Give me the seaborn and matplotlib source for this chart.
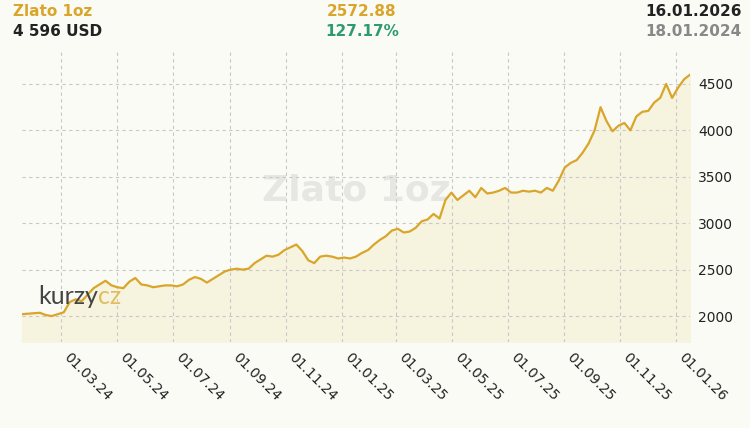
import matplotlib
matplotlib.use("Agg")
import matplotlib.pyplot as plt
import matplotlib.dates as mdates
import seaborn as sns
import pandas as pd

start_date = "2024-01-18"
end_date = "2026-01-16"
prices = [2020, 2025, 2030, 2035, 2010, 2000, 2020, 2040, 2150, 2180, 2160, 2230, 2300, 2340,
          2380, 2330, 2310, 2300, 2370, 2410, 2340, 2330, 2310, 2320, 2330, 2330, 2320, 2340,
          2390, 2420, 2400, 2360, 2400, 2440, 2480, 2500, 2510, 2500, 2510, 2570, 2610, 2650,
          2640, 2660, 2710, 2740, 2770, 2700, 2600, 2570, 2640, 2650, 2640, 2620, 2630, 2620,
          2640, 2680, 2710, 2770, 2820, 2860, 2920, 2940, 2900, 2910, 2950, 3020, 3040, 3100,
          3050, 3250, 3330, 3250, 3300, 3350, 3280, 3380, 3320, 3330, 3350, 3380, 3330, 3330,
          3350, 3340, 3350, 3330, 3380, 3350, 3460, 3600, 3650, 3680, 3760, 3860, 4000, 4250,
          4100, 3990, 4050, 4080, 4000, 4150, 4200, 4210, 4300, 4350, 4500, 4350, 4460, 4550, 4600]
tick_dates = ["2024-03-01", "2024-05-01", "2024-07-01", "2024-09-01", "2024-11-01", "2025-01-01",
              "2025-03-01", "2025-05-01", "2025-07-01", "2025-09-01", "2025-11-01", "2026-01-01"]
y_ticks = [2000, 2500, 3000, 3500, 4000, 4500]

df = pd.DataFrame({"date": pd.date_range(start_date, end_date, periods=len(prices)), "price": prices})

bg = "#fbfbf6"
gold = "#d9a52b"
fig = plt.figure(figsize=(7.5, 4.28), dpi=100, facecolor=bg)
ax = fig.add_axes([22/750, 1-342/428, (690-22)/750, (342-50)/428])
ax.set_facecolor(bg)
ax.fill_between(df["date"], df["price"], 1700, color="#f6f3df", zorder=1)
sns.lineplot(data=df, x="date", y="price", color=gold, linewidth=1.6, ax=ax, zorder=3)
ax.set_ylim(1720, 4866)
ax.set_xlim(pd.Timestamp(start_date), pd.Timestamp(end_date))
ax.set_xticks(pd.to_datetime(tick_dates))
ax.xaxis.set_major_formatter(mdates.DateFormatter("%d.%m.%y"))
ax.set_yticks(y_ticks)
ax.yaxis.tick_right()
ax.grid(True, color="#c8c8c8", linestyle=(0, (3, 3)), linewidth=0.8, zorder=0)
for s in ax.spines.values():
    s.set_visible(False)
ax.tick_params(length=0, labelsize=10, colors="#222222", pad=6)
for lbl in ax.get_xticklabels():
    lbl.set_rotation(-45); lbl.set_ha("left"); lbl.set_va("top")
ax.set_xlabel(""); ax.set_ylabel("")
ax.text(0.5, 0.52, "Zlato 1oz", transform=ax.transAxes, fontsize=26, fontweight="bold",
        color="#e6e6e3", ha="center", va="center", zorder=0.5)
k = fig.text(38/750, 1-297/428, "kurzy", fontsize=18, color="#444444", va="center", ha="left",
             family="Lato", zorder=10)
fig.canvas.draw()
bb = k.get_window_extent()
fig.text(bb.x1 / 750, 1-297/428, "cz", fontsize=18, color="#e0bd60", va="center", ha="left",
         family="Lato", zorder=10)

hp = dict(fontsize=11, fontweight="bold")
fig.text(13/750, 1-11/428, "Zlato 1oz", color=gold, va="center", **hp)
fig.text(362/750, 1-11/428, "2572.88", color=gold, va="center", ha="center", **hp)
fig.text(742/750, 1-11/428, "16.01.2026", color="#222222", va="center", ha="right", **hp)
fig.text(13/750, 1-31/428, "4 596 USD", color="#222222", va="center", **hp)
fig.text(362/750, 1-31/428, "127.17%", color="#2e9a6e", va="center", ha="center", **hp)
fig.text(742/750, 1-31/428, "18.01.2024", color="#888888", va="center", ha="right", **hp)
fig.savefig("out.png", dpi=100, facecolor=bg)
